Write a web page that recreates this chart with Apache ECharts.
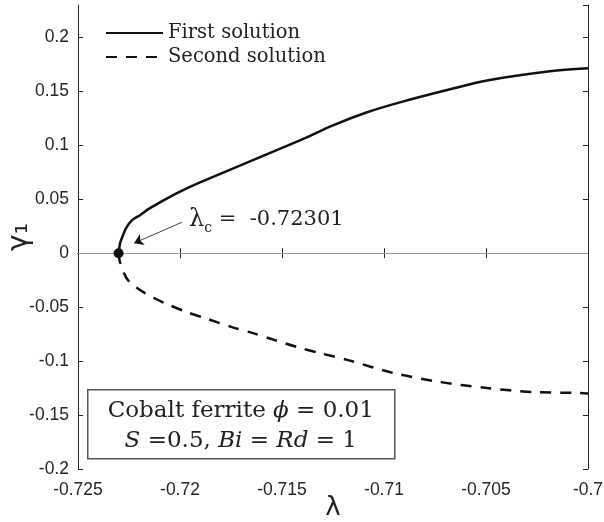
<!DOCTYPE html>
<html>
<head>
    <meta charset="utf-8">
    <script src="https://cdn.jsdelivr.net/npm/echarts@6/dist/echarts.min.js"></script>
    <style>
        * { margin: 0; padding: 0; }
        #view { width: 604px; height: 522px; }
    </style>
</head>
<body>
    <div id="view"></div>
    <script>
        // first solution (upper branch)
        var firstX = [-0.72301, -0.72294, -0.72289, -0.72265, -0.72235, -0.72196, -0.72147, -0.72015, -0.71902,
            -0.71412, -0.7125, -0.71083, -0.70922, -0.70676, -0.70495, -0.70186, -0.7];
        var firstY = [0, 0.0093, 0.012, 0.023, 0.0306, 0.0352, 0.0417, 0.0556, 0.0657,
            0.1046, 0.1185, 0.1306, 0.1398, 0.1519, 0.160, 0.1685, 0.1713];
        // second solution (lower branch)
        var secondX = [-0.72301, -0.72294, -0.72255, -0.72172, -0.72074, -0.71966, -0.71863, -0.71745, -0.71642,
            -0.71534, -0.71426, -0.71314, -0.71176, -0.70956, -0.70725, -0.70495, -0.7027, -0.70039, -0.7];
        var secondY = [0, -0.0083, -0.025, -0.037, -0.0463, -0.0546, -0.0611, -0.0685, -0.0741,
            -0.0806, -0.087, -0.0926, -0.0991, -0.111, -0.1194, -0.125, -0.1287, -0.1296, -0.1300];
        var critical = [-0.72301, 0];
        var arrowFrom = [-0.7199, 0.0287];
        var arrowTo = [-0.72225, 0.0093];

        function pairs(xs, ys) {
            var out = [];
            for (var i = 0; i < xs.length; i++) out.push([xs[i], ys[i]]);
            return out;
        }
        function fmt(v) {
            var r = Math.round(v * 1000) / 1000;
            if (Math.abs(Math.round(v * 200) - v * 200) > 1e-6) return '';
            return String(r);
        }

        var axisColor = '#262626';
        var tickFont = { color: '#262626', fontSize: 17.5, fontFamily: 'Liberation Sans' };
        var serif = 'DejaVu Serif';

        var view = echarts.init(document.getElementById('view'));
        var option = {
            animation: false,
            backgroundColor: '#fff',
            grid: { left: 78, right: 16, top: 5, bottom: 53, outerBoundsMode: 'none', containLabel: false },
            legend: {
                data: ['First solution', 'Second solution'],
                orient: 'vertical',
                left: 100,
                top: 18,
                itemWidth: 57,
                itemHeight: 14,
                itemGap: 4,
                itemStyle: { opacity: 0 },
                textStyle: { fontFamily: serif, fontSize: 19.5, lineHeight: 20, color: '#222' }
            },
            xAxis: [{
                type: 'value', min: -0.725, max: -0.7, interval: 0.005,
                name: 'λ', nameLocation: 'middle', nameGap: 26, nameMoveOverlap: false,
                nameTextStyle: { fontSize: 26, color: '#222', fontFamily: 'DejaVu Sans' },
                axisLine: { lineStyle: { color: axisColor } },
                axisTick: { inside: true, length: 5, lineStyle: { color: axisColor } },
                axisLabel: Object.assign({ formatter: fmt, margin: 12 }, tickFont),
                splitLine: { show: false }
            }, {
                type: 'value', min: -0.725, max: -0.7, interval: 0.005, position: 'top',
                axisLine: { lineStyle: { color: axisColor } },
                axisTick: { inside: true, length: 5, lineStyle: { color: axisColor } },
                axisLabel: { show: false },
                splitLine: { show: false }
            }],
            yAxis: [{
                type: 'value', min: -0.2, max: 0.23, interval: 0.05,
                name: 'γ₁', nameLocation: 'middle', nameGap: 44, nameRotate: 90, nameMoveOverlap: false,
                nameTextStyle: { fontSize: 28, color: '#222', fontFamily: 'DejaVu Sans' },
                axisLine: { lineStyle: { color: axisColor } },
                axisTick: { inside: true, length: 5, lineStyle: { color: axisColor } },
                axisLabel: Object.assign({ formatter: fmt, margin: 9, showMaxLabel: false }, tickFont),
                splitLine: { show: false }
            }, {
                type: 'value', min: -0.2, max: 0.23, interval: 0.05, position: 'right',
                axisLine: { lineStyle: { color: axisColor } },
                axisTick: { inside: true, length: 5, lineStyle: { color: axisColor } },
                axisLabel: { show: false },
                splitLine: { show: false }
            }],
            series: [{
                name: 'First solution',
                type: 'line',
                data: pairs(firstX, firstY),
                symbol: 'none',
                smooth: 0.3,
                lineStyle: { color: '#111', width: 2.5 },
                itemStyle: { color: '#111' },
                markLine: {
                    silent: true,
                    symbol: ['none', 'arrow'],
                    symbolSize: 9,
                    label: { show: false },
                    lineStyle: { color: '#111', width: 0.8, type: 'solid' },
                    data: [[{ coord: arrowFrom }, { coord: arrowTo }]]
                },
                z: 3
            }, {
                name: 'Second solution',
                type: 'line',
                data: pairs(secondX, secondY),
                symbol: 'none',
                smooth: 0.3,
                lineStyle: { color: '#111', width: 2.5, type: [11, 9] },
                itemStyle: { color: '#111' },
                markLine: {
                    silent: true,
                    symbol: ['none', 'none'],
                    label: { show: false },
                    lineStyle: { color: '#9a9a9a', width: 1, type: 'solid' },
                    data: [{ yAxis: 0 }]
                },
                z: 2
            }, {
                name: 'critical',
                type: 'scatter',
                data: [critical],
                symbolSize: 10,
                itemStyle: { color: '#111', opacity: 1 },
                z: 5
            }],
            graphic: [{
                type: 'text',
                left: 189, top: 208,
                style: {
                    text: '{l|λ}{s|c}{t| =  -0.72301}',
                    rich: {
                        l: { fontFamily: serif, fontSize: 24, fill: '#222' },
                        s: { fontFamily: serif, fontSize: 14, fill: '#222', padding: [16, 0, 0, 0] },
                        t: { fontFamily: serif, fontSize: 21, fill: '#222' }
                    }
                }
            }, {
                type: 'group',
                left: 87, top: 389,
                children: [{
                    type: 'rect',
                    shape: { x: 0, y: 0, width: 307, height: 69 },
                    style: { fill: '#fff', stroke: '#555', lineWidth: 1.5 }
                }, {
                    type: 'text',
                    x: 153, y: 21,
                    style: {
                        text: '{n|Cobalt ferrite }{i|ϕ}{n| = 0.01}',
                        align: 'center', verticalAlign: 'middle',
                        rich: {
                            n: { fontFamily: serif, fontSize: 23, fill: '#222' },
                            i: { fontFamily: serif, fontSize: 23, fontStyle: 'italic', fill: '#222' }
                        }
                    }
                }, {
                    type: 'text',
                    x: 153, y: 51,
                    style: {
                        text: '{i|S}{n| =0.5, }{i|Bi}{n| = }{i|Rd}{n| = 1}',
                        align: 'center', verticalAlign: 'middle',
                        rich: {
                            n: { fontFamily: serif, fontSize: 23, fill: '#222' },
                            i: { fontFamily: serif, fontSize: 23, fontStyle: 'italic', fill: '#222' }
                        }
                    }
                }]
            }]
        };
        view.setOption(option);
    </script>
</body>
</html>
